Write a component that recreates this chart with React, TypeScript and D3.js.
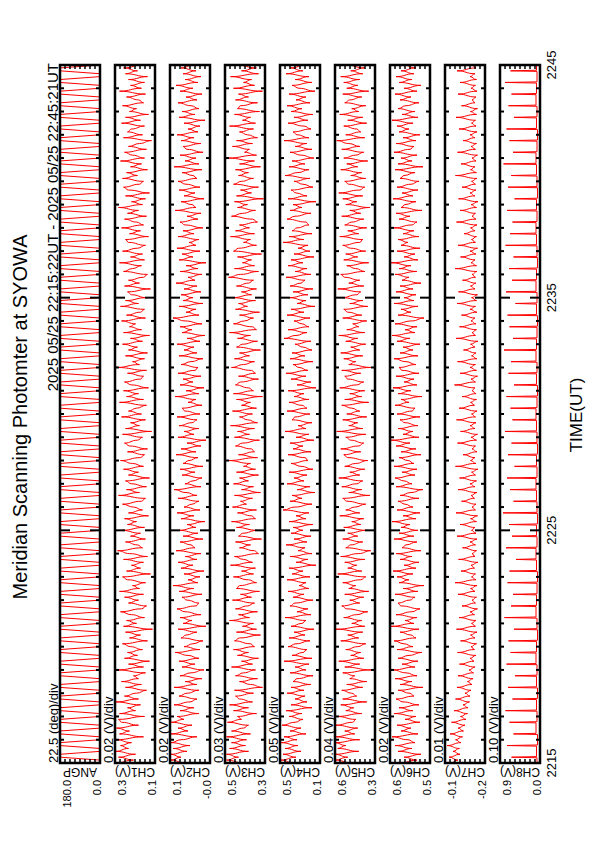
import React from 'react';
import * as d3 from 'd3';

const pageW = 595;
const pageH = 842;

// the plot is laid out on a landscape sheet and turned a quarter turn onto the page
const sheetW = 842;
const plotLeft = 79;
const plotRight = 777;
const panelTop = 60;
const panelH = 40;
const panelStep = 55;

const font = 'Liberation Sans Narrow, Liberation Sans, Arial, sans-serif';

const titleText = 'Meridian Scanning Photomter at SYOWA';
const headerText = '2025 05/25 22:15:22UT - 2025 05/25 22:45:21UT';
const axisTitle = 'TIME(UT)';

// minutes after 22:15 UT
const timeSpan = [0, 30];
const timeTicks = [0, 10, 20, 30];
const timeLabels = ['2215', '2225', '2235', '2245'];

const channelNames = ['ANGP', 'CH1(V)', 'CH2(V)', 'CH3(V)', 'CH4(V)', 'CH5(V)', 'CH6(V)', 'CH7(V)', 'CH8(V)'];
const divLabels = ['22.5 (deg)/div', '0.02 (V)/div', '0.02 (V)/div', '0.03 (V)/div', '0.05 (V)/div', '0.04 (V)/div', '0.02 (V)/div', '0.01 (V)/div', '0.10 (V)/div'];
const perDiv = [22.5, 0.02, 0.02, 0.03, 0.05, 0.04, 0.02, 0.01, 0.1];
const axisMin = [0, 0.14, -0.04, 0.28, 0.12, 0.3, 0.48, -0.2, 0.05];
const topLabels = ['180.0', '0.3', '0.1', '0.5', '0.5', '0.6', '0.6', '-0.1', '0.9'];
const bottomLabels = ['0.0', '0.1', '-0.0', '0.3', '0.1', '0.3', '0.5', '-0.2', '0.0'];
const nDiv = 8;

// scanner angle every 7.5 s: rests at each end, sweeps in between
const angp = [
  0, 0, 180, 180, 0, 0, 180, 180, 0, 0, 180, 180,
  0, 0, 180, 180, 0, 0, 180, 180, 0, 0, 180, 180,
  0, 0, 180, 180, 0, 0, 180, 180, 0, 0, 180, 180,
  0, 0, 180, 180, 0, 0, 180, 180, 0, 0, 180, 180,
  0, 0, 180, 180, 0, 0, 180, 180, 0, 0, 180, 180,
  0, 0, 180, 180, 0, 0, 180, 180, 0, 0, 180, 180,
  0, 0, 180, 180, 0, 0, 180, 180, 0, 0, 180, 180,
  0, 0, 180, 180, 0, 0, 180, 180, 0, 0, 180, 180,
  0, 0, 180, 180, 0, 0, 180, 180, 0, 0, 180, 180,
  0, 0, 180, 180, 0, 0, 180, 180, 0, 0, 180, 180,
  0, 0, 180, 180, 0, 0, 180, 180, 0, 0, 180, 180,
  0, 0, 180, 180, 0, 0, 180, 180, 0, 0, 180, 180,
  0, 0, 180, 180, 0, 0, 180, 180, 0, 0, 180, 180,
  0, 0, 180, 180, 0, 0, 180, 180, 0, 0, 180, 180,
  0, 0, 180, 180, 0, 0, 180, 180, 0, 0, 180, 180,
  0, 0, 180, 180, 0, 0, 180, 180, 0, 0, 180, 180,
  0, 0, 180, 180, 0, 0, 180, 180, 0, 0, 180, 180,
  0, 0, 180, 180, 0, 0, 180, 180, 0, 0, 180, 180,
  0, 0, 180, 180, 0, 0, 180, 180, 0, 0, 180, 180,
  0, 0, 180, 180, 0, 0, 180, 180, 0, 0, 180, 180,
  0,
];

// photometer channels, one reading every 7.5 s
const ch1 = [
  0.298, 0.226, 0.286, 0.218, 0.298, 0.246, 0.278, 0.234, 0.296, 0.186, 0.282, 0.242, 0.294, 0.206, 0.274, 0.286, 0.182, 0.282, 0.218, 0.25,
  0.198, 0.298, 0.206, 0.262, 0.214, 0.174, 0.258, 0.194, 0.274, 0.206, 0.226, 0.178, 0.294, 0.186, 0.246, 0.162, 0.262, 0.21, 0.25, 0.19,
  0.238, 0.27, 0.17, 0.242, 0.198, 0.258, 0.15, 0.266, 0.214, 0.254, 0.182, 0.234, 0.278, 0.194, 0.174, 0.246, 0.206, 0.262, 0.186, 0.282,
  0.202, 0.23, 0.178, 0.25, 0.27, 0.158, 0.254, 0.198, 0.234, 0.186, 0.266, 0.17, 0.242, 0.29, 0.19, 0.21, 0.258, 0.178, 0.238, 0.198,
  0.274, 0.182, 0.25, 0.214, 0.262, 0.166, 0.246, 0.19, 0.226, 0.27, 0.194, 0.178, 0.286, 0.202, 0.254, 0.174, 0.234, 0.258, 0.162, 0.246,
  0.206, 0.266, 0.186, 0.23, 0.278, 0.198, 0.182, 0.25, 0.17, 0.242, 0.262, 0.21, 0.19, 0.27, 0.154, 0.258, 0.202, 0.238, 0.178, 0.274,
  0.194, 0.246, 0.214, 0.174, 0.282, 0.186, 0.254, 0.206, 0.266, 0.166, 0.234, 0.262, 0.198, 0.186, 0.25, 0.174, 0.294, 0.202, 0.23, 0.182,
  0.258, 0.17, 0.246, 0.21, 0.27, 0.19, 0.238, 0.162, 0.266, 0.194, 0.242, 0.218, 0.274, 0.178, 0.254, 0.198, 0.182, 0.278, 0.206, 0.258,
  0.174, 0.234, 0.25, 0.158, 0.262, 0.202, 0.246, 0.186, 0.17, 0.266, 0.23, 0.194, 0.282, 0.182, 0.238, 0.19, 0.27, 0.21, 0.178, 0.246,
  0.258, 0.166, 0.242, 0.198, 0.274, 0.186, 0.214, 0.262, 0.174, 0.25, 0.206, 0.286, 0.19, 0.234, 0.178, 0.258, 0.162, 0.246, 0.266, 0.202,
  0.186, 0.27, 0.21, 0.254, 0.17, 0.238, 0.194, 0.278, 0.182, 0.23, 0.262, 0.174, 0.246, 0.202, 0.154, 0.266, 0.19, 0.25, 0.234, 0.182,
  0.274, 0.198, 0.258, 0.166, 0.242, 0.214, 0.27, 0.186, 0.206, 0.254, 0.178, 0.282, 0.194, 0.238, 0.182, 0.246, 0.17, 0.258, 0.21, 0.266,
  0.19,
];

const ch2 = [
  0.06, 0.116, 0.076, 0.116, 0.052, 0.108, 0.04, 0.116, 0.076, 0.012, 0.116, 0.048, 0.088, 0.032, 0.116, 0.064, 0.092, 0.004, 0.08, 0.024,
  0.104, 0.04, 0.012, 0.084, 0.052, 0.004, 0.104, 0.012, 0.06, -0.008, 0.08, 0.036, -0.016, 0.072, 0.02, 0.084, 0.004, 0.048, 0.1, 0.0,
  0.064, 0.028, -0.012, 0.076, 0.056, 0.012, 0.088, -0.024, 0.068, 0.032, 0.08, -0.004, 0.06, 0.092, 0.016, 0.004, 0.052, 0.072, -0.008, 0.084,
  0.024, 0.108, 0.008, 0.048, 0.0, 0.064, -0.016, 0.076, 0.028, 0.088, 0.012, 0.06, -0.004, 0.096, 0.02, 0.036, 0.08, -0.012, 0.068, 0.008,
  0.084, 0.016, 0.052, -0.02, 0.076, 0.024, 0.092, 0.0, 0.064, 0.032, 0.004, 0.088, 0.012, 0.056, 0.104, -0.004, 0.06, 0.028, -0.008, 0.072,
  0.02, 0.08, -0.012, 0.068, 0.044, 0.008, 0.096, 0.016, 0.076, -0.004, 0.052, -0.024, 0.088, 0.024, 0.064, 0.004, 0.084, 0.032, 0.012, 0.092,
  0.0, 0.06, 0.072, -0.008, 0.048, 0.016, 0.1, 0.004, 0.056, -0.016, 0.08, 0.028, 0.068, -0.004, 0.088, 0.02, 0.008, 0.076, 0.036, -0.012,
  0.084, 0.012, 0.064, 0.024, 0.092, 0.0, 0.052, -0.02, 0.072, 0.032, 0.08, -0.008, 0.06, 0.108, 0.004, 0.056, 0.016, 0.084, -0.012, 0.068,
  0.028, 0.076, -0.004, 0.064, 0.012, 0.096, 0.02, 0.048, -0.008, 0.08, 0.008, 0.056, -0.024, 0.084, 0.028, 0.072, 0.0, 0.092, 0.016, 0.044,
  0.004, 0.088, 0.024, 0.068, -0.012, 0.06, 0.08, 0.008, 0.052, -0.004, 0.1, 0.016, 0.032, 0.076, -0.016, 0.064, 0.02, 0.084, 0.0, 0.056,
  0.088, 0.012, 0.028, 0.072, -0.008, 0.104, 0.004, 0.06, 0.016, 0.08, -0.012, 0.052, 0.068, -0.004, 0.076, 0.024, 0.092, 0.008, 0.048, 0.0,
  0.064, -0.02, 0.084, 0.02, 0.072, 0.004, 0.036, 0.088, 0.012, 0.056, -0.008, 0.08, 0.028, 0.096, 0.008, 0.06, -0.004, 0.068, 0.016, 0.076,
  0.024,
];

const ch3 = [
  0.409, 0.511, 0.439, 0.511, 0.379, 0.493, 0.397, 0.481, 0.391, 0.511, 0.367, 0.481, 0.409, 0.379, 0.505, 0.421, 0.445, 0.331, 0.469, 0.379,
  0.493, 0.355, 0.433, 0.457, 0.349, 0.463, 0.295, 0.367, 0.433, 0.325, 0.457, 0.409, 0.337, 0.481, 0.355, 0.421, 0.319, 0.445, 0.379, 0.469,
  0.343, 0.367, 0.463, 0.433, 0.307, 0.451, 0.331, 0.415, 0.349, 0.493, 0.373, 0.439, 0.325, 0.457, 0.385, 0.343, 0.475, 0.361, 0.427, 0.313,
  0.451, 0.433, 0.331, 0.379, 0.469, 0.349, 0.421, 0.337, 0.487, 0.355, 0.409, 0.463, 0.319, 0.343, 0.433, 0.367, 0.457, 0.301, 0.439, 0.415,
  0.325, 0.451, 0.373, 0.481, 0.337, 0.361, 0.445, 0.331, 0.475, 0.391, 0.427, 0.355, 0.463, 0.307, 0.421, 0.349, 0.469, 0.379, 0.433, 0.319,
  0.451, 0.337, 0.409, 0.367, 0.505, 0.325, 0.439, 0.343, 0.361, 0.457, 0.415, 0.313, 0.463, 0.373, 0.445, 0.343, 0.487, 0.325, 0.385, 0.433,
  0.355, 0.475, 0.331, 0.421, 0.367, 0.451, 0.295, 0.469, 0.349, 0.379, 0.457, 0.427, 0.319, 0.439, 0.337, 0.361, 0.481, 0.409, 0.343, 0.463,
  0.373, 0.433, 0.307, 0.451, 0.415, 0.325, 0.445, 0.367, 0.493, 0.331, 0.355, 0.469, 0.403, 0.349, 0.433, 0.313, 0.457, 0.385, 0.439, 0.337,
  0.475, 0.361, 0.421, 0.331, 0.451, 0.379, 0.349, 0.499, 0.427, 0.319, 0.463, 0.343, 0.415, 0.361, 0.445, 0.301, 0.469, 0.439, 0.331, 0.409,
  0.367, 0.487, 0.343, 0.457, 0.373, 0.433, 0.325, 0.355, 0.481, 0.415, 0.337, 0.445, 0.385, 0.463, 0.289, 0.451, 0.361, 0.427, 0.319, 0.469,
  0.421, 0.349, 0.439, 0.379, 0.457, 0.307, 0.433, 0.343, 0.505, 0.331, 0.403, 0.373, 0.475, 0.355, 0.451, 0.325, 0.385, 0.433, 0.349, 0.493,
  0.337, 0.415, 0.367, 0.463, 0.313, 0.445, 0.427, 0.325, 0.457, 0.379, 0.439, 0.295, 0.469, 0.343, 0.409, 0.361, 0.487, 0.319, 0.421, 0.331,
  0.451,
];

const ch4 = [
  0.38, 0.51, 0.36, 0.49, 0.31, 0.47, 0.34, 0.51, 0.35, 0.48, 0.26, 0.42, 0.31, 0.5, 0.37, 0.29, 0.43, 0.3, 0.46, 0.2,
  0.41, 0.25, 0.37, 0.27, 0.45, 0.28, 0.41, 0.21, 0.39, 0.35, 0.19, 0.42, 0.26, 0.37, 0.23, 0.48, 0.2, 0.4, 0.29, 0.25,
  0.44, 0.36, 0.22, 0.43, 0.27, 0.38, 0.18, 0.41, 0.3, 0.26, 0.47, 0.21, 0.35, 0.24, 0.42, 0.37, 0.19, 0.39, 0.28, 0.44,
  0.23, 0.33, 0.26, 0.45, 0.22, 0.4, 0.29, 0.43, 0.16, 0.36, 0.24, 0.42, 0.2, 0.34, 0.27, 0.46, 0.25, 0.38, 0.21, 0.41,
  0.29, 0.39, 0.19, 0.43, 0.26, 0.36, 0.23, 0.49, 0.37, 0.2, 0.42, 0.3, 0.4, 0.17, 0.35, 0.22, 0.45, 0.28, 0.38, 0.25,
  0.43, 0.19, 0.31, 0.41, 0.24, 0.27, 0.44, 0.21, 0.39, 0.29, 0.42, 0.18, 0.36, 0.23, 0.47, 0.26, 0.34, 0.2, 0.4, 0.37,
  0.22, 0.45, 0.25, 0.3, 0.43, 0.23, 0.38, 0.28, 0.44, 0.16, 0.35, 0.21, 0.41, 0.26, 0.46, 0.24, 0.33, 0.39, 0.19, 0.42,
  0.27, 0.4, 0.2, 0.29, 0.37, 0.21, 0.48, 0.36, 0.25, 0.44, 0.23, 0.3, 0.38, 0.22, 0.45, 0.28, 0.41, 0.17, 0.35, 0.26,
  0.43, 0.24, 0.39, 0.19, 0.42, 0.31, 0.27, 0.46, 0.21, 0.37, 0.25, 0.44, 0.29, 0.41, 0.18, 0.38, 0.22, 0.34, 0.24, 0.49,
  0.28, 0.43, 0.2, 0.4, 0.35, 0.23, 0.26, 0.45, 0.37, 0.21, 0.42, 0.3, 0.39, 0.16, 0.44, 0.25, 0.36, 0.41, 0.19, 0.29,
  0.38, 0.22, 0.47, 0.34, 0.23, 0.43, 0.27, 0.4, 0.18, 0.31, 0.42, 0.2, 0.37, 0.25, 0.48, 0.23, 0.35, 0.39, 0.21, 0.28,
  0.44, 0.24, 0.38, 0.19, 0.41, 0.3, 0.45, 0.22, 0.36, 0.26, 0.43, 0.17, 0.33, 0.4, 0.2, 0.37, 0.23, 0.46, 0.29, 0.42,
  0.25,
];

const ch5 = [
  0.478, 0.622, 0.518, 0.622, 0.43, 0.598, 0.534, 0.622, 0.422, 0.622, 0.462, 0.542, 0.438, 0.614, 0.478, 0.454, 0.606, 0.406, 0.534, 0.47,
  0.574, 0.366, 0.558, 0.446, 0.486, 0.566, 0.398, 0.526, 0.366, 0.502, 0.462, 0.558, 0.326, 0.542, 0.422, 0.59, 0.39, 0.494, 0.414, 0.534,
  0.438, 0.374, 0.574, 0.43, 0.518, 0.398, 0.614, 0.382, 0.486, 0.406, 0.55, 0.446, 0.358, 0.526, 0.566, 0.422, 0.502, 0.39, 0.542, 0.35,
  0.51, 0.454, 0.558, 0.414, 0.374, 0.598, 0.406, 0.518, 0.446, 0.542, 0.382, 0.574, 0.43, 0.334, 0.534, 0.494, 0.398, 0.558, 0.438, 0.518,
  0.366, 0.55, 0.414, 0.486, 0.39, 0.582, 0.422, 0.534, 0.462, 0.374, 0.526, 0.558, 0.342, 0.51, 0.406, 0.566, 0.446, 0.398, 0.59, 0.422,
  0.502, 0.382, 0.542, 0.454, 0.358, 0.518, 0.55, 0.414, 0.574, 0.43, 0.39, 0.494, 0.534, 0.374, 0.606, 0.398, 0.51, 0.438, 0.558, 0.366,
  0.526, 0.422, 0.486, 0.566, 0.35, 0.542, 0.406, 0.502, 0.382, 0.582, 0.446, 0.39, 0.518, 0.542, 0.414, 0.566, 0.326, 0.51, 0.454, 0.55,
  0.398, 0.574, 0.422, 0.494, 0.374, 0.534, 0.438, 0.59, 0.382, 0.526, 0.43, 0.478, 0.366, 0.558, 0.406, 0.518, 0.55, 0.358, 0.502, 0.398,
  0.566, 0.446, 0.414, 0.598, 0.39, 0.51, 0.422, 0.542, 0.574, 0.382, 0.454, 0.526, 0.35, 0.55, 0.438, 0.534, 0.374, 0.494, 0.558, 0.422,
  0.398, 0.582, 0.43, 0.518, 0.366, 0.542, 0.486, 0.39, 0.566, 0.414, 0.502, 0.342, 0.534, 0.446, 0.558, 0.398, 0.59, 0.422, 0.382, 0.51,
  0.542, 0.374, 0.494, 0.406, 0.574, 0.438, 0.526, 0.358, 0.55, 0.454, 0.39, 0.566, 0.422, 0.51, 0.606, 0.382, 0.534, 0.414, 0.446, 0.55,
  0.366, 0.518, 0.398, 0.582, 0.43, 0.486, 0.374, 0.542, 0.502, 0.406, 0.558, 0.35, 0.526, 0.438, 0.55, 0.422, 0.574, 0.398, 0.494, 0.382,
  0.534,
];

const ch6 = [
  0.6, 0.532, 0.584, 0.516, 0.608, 0.552, 0.62, 0.54, 0.568, 0.632, 0.528, 0.596, 0.556, 0.612, 0.52, 0.58, 0.536, 0.624, 0.548, 0.604,
  0.524, 0.588, 0.616, 0.544, 0.56, 0.608, 0.508, 0.6, 0.552, 0.62, 0.532, 0.576, 0.628, 0.54, 0.592, 0.528, 0.608, 0.564, 0.512, 0.612,
  0.548, 0.584, 0.624, 0.536, 0.556, 0.6, 0.524, 0.636, 0.544, 0.58, 0.532, 0.616, 0.552, 0.52, 0.596, 0.608, 0.56, 0.54, 0.62, 0.528,
  0.588, 0.504, 0.604, 0.564, 0.612, 0.548, 0.628, 0.536, 0.584, 0.524, 0.6, 0.552, 0.616, 0.516, 0.592, 0.576, 0.532, 0.624, 0.544, 0.604,
  0.528, 0.596, 0.56, 0.632, 0.536, 0.588, 0.52, 0.612, 0.548, 0.58, 0.608, 0.524, 0.6, 0.556, 0.508, 0.616, 0.552, 0.584, 0.62, 0.54,
  0.592, 0.532, 0.624, 0.544, 0.568, 0.604, 0.516, 0.596, 0.536, 0.616, 0.56, 0.636, 0.524, 0.588, 0.548, 0.608, 0.528, 0.58, 0.6, 0.52,
  0.612, 0.552, 0.54, 0.62, 0.564, 0.596, 0.512, 0.608, 0.556, 0.628, 0.532, 0.584, 0.544, 0.616, 0.524, 0.592, 0.604, 0.536, 0.576, 0.624,
  0.528, 0.6, 0.548, 0.588, 0.52, 0.612, 0.56, 0.632, 0.54, 0.58, 0.532, 0.62, 0.552, 0.504, 0.608, 0.556, 0.596, 0.528, 0.624, 0.544,
  0.584, 0.536, 0.616, 0.548, 0.6, 0.516, 0.592, 0.564, 0.62, 0.532, 0.604, 0.556, 0.636, 0.528, 0.584, 0.54, 0.612, 0.52, 0.596, 0.568,
  0.608, 0.524, 0.588, 0.544, 0.624, 0.552, 0.532, 0.604, 0.56, 0.616, 0.512, 0.596, 0.58, 0.536, 0.628, 0.548, 0.592, 0.528, 0.612, 0.556,
  0.524, 0.6, 0.584, 0.54, 0.62, 0.508, 0.608, 0.552, 0.596, 0.532, 0.624, 0.56, 0.544, 0.616, 0.536, 0.588, 0.52, 0.604, 0.564, 0.612,
  0.548, 0.632, 0.528, 0.592, 0.54, 0.608, 0.576, 0.524, 0.6, 0.556, 0.62, 0.532, 0.584, 0.516, 0.604, 0.552, 0.616, 0.544, 0.596, 0.536,
  0.588,
];

const ch7 = [
  -0.131, -0.146, -0.128, -0.15, -0.136, -0.149, -0.124, -0.152, -0.141, -0.155,
  -0.13, -0.157, -0.146, -0.16, -0.133, -0.162, -0.151, -0.165, -0.138, -0.166,
  -0.156, -0.169, -0.141, -0.17, -0.16, -0.172, -0.144, -0.174, -0.165, -0.176,
  -0.146, -0.177, -0.168, -0.18, -0.149, -0.178, -0.17, -0.182, -0.145, -0.179,
  -0.172, -0.183, -0.151, -0.18, -0.171, -0.184, -0.143, -0.181, -0.173, -0.182,
  -0.148, -0.179, -0.17, -0.185, -0.154, -0.181, -0.174, -0.183, -0.146, -0.18,
  -0.171, -0.184, -0.14, -0.182, -0.173, -0.181, -0.152, -0.179, -0.172, -0.186,
  -0.147, -0.18, -0.174, -0.183, -0.155, -0.181, -0.17, -0.184, -0.144, -0.182,
  -0.173, -0.18, -0.15, -0.183, -0.171, -0.185, -0.142, -0.181, -0.174, -0.182,
  -0.153, -0.179, -0.172, -0.184, -0.146, -0.18, -0.17, -0.183, -0.149, -0.181,
  -0.173, -0.186, -0.141, -0.182, -0.171, -0.18, -0.156, -0.184, -0.174, -0.181,
  -0.145, -0.183, -0.172, -0.185, -0.151, -0.18, -0.17, -0.182, -0.143, -0.181,
  -0.173, -0.184, -0.148, -0.179, -0.171, -0.183, -0.154, -0.182, -0.174, -0.18,
  -0.139, -0.181, -0.172, -0.185, -0.15, -0.183, -0.17, -0.181, -0.145, -0.184,
  -0.173, -0.182, -0.157, -0.18, -0.171, -0.186, -0.142, -0.181, -0.174, -0.183,
  -0.149, -0.182, -0.172, -0.18, -0.153, -0.184, -0.17, -0.181, -0.144, -0.183,
  -0.173, -0.185, -0.147, -0.18, -0.171, -0.182, -0.155, -0.181, -0.174, -0.184,
  -0.14, -0.183, -0.172, -0.18, -0.151, -0.182, -0.17, -0.185, -0.146, -0.181,
  -0.173, -0.183, -0.158, -0.18, -0.171, -0.184, -0.143, -0.182, -0.174, -0.181,
  -0.15, -0.183, -0.172, -0.186, -0.147, -0.18, -0.17, -0.182, -0.154, -0.181,
  -0.173, -0.184, -0.141, -0.183, -0.171, -0.18, -0.152, -0.182, -0.174, -0.185,
  -0.145, -0.181, -0.172, -0.183, -0.156, -0.18, -0.17, -0.184, -0.148, -0.182,
  -0.173, -0.181, -0.142, -0.183, -0.171, -0.185, -0.153, -0.18, -0.174, -0.182,
  -0.146, -0.184, -0.172, -0.181, -0.15, -0.183, -0.17, -0.18, -0.144, -0.182,
  -0.173,
];

// CH8: quiet level between scans and the peak seen once per scan
const ch8Base = [
  0.11, 0.12, 0.1, 0.13, 0.11, 0.12, 0.1, 0.12, 0.11, 0.13,
  0.12, 0.1, 0.11, 0.13, 0.12, 0.11, 0.1, 0.12, 0.13, 0.11,
  0.12, 0.1, 0.11, 0.12, 0.13, 0.11, 0.12, 0.1, 0.11, 0.12,
  0.13, 0.11, 0.1, 0.12, 0.11, 0.13, 0.12, 0.11, 0.1, 0.12,
  0.11, 0.13, 0.12, 0.1, 0.11, 0.12, 0.13, 0.11, 0.12, 0.1,
  0.11, 0.12, 0.13, 0.11, 0.1, 0.12, 0.11, 0.13, 0.12, 0.11,
  0.12,
];
const ch8Peak = [
  0.62, 0.71, 0.58, 0.66, 0.74, 0.6, 0.69, 0.55, 0.72, 0.64,
  0.68, 0.57, 0.76, 0.63, 0.59, 0.7, 0.66, 0.53, 0.73, 0.61,
  0.67, 0.79, 0.58, 0.65, 0.71, 0.56, 0.69, 0.62, 0.75, 0.6,
  0.64, 0.72, 0.57, 0.68, 0.63, 0.77, 0.59, 0.66, 0.7, 0.54,
  0.73, 0.61, 0.67, 0.58, 0.74, 0.65, 0.6, 0.71, 0.56, 0.69,
  0.63, 0.78, 0.59, 0.66, 0.72, 0.57, 0.68, 0.62, 0.75, 0.64,
];

const traces = [angp, ch1, ch2, ch3, ch4, ch5, ch6, ch7];

function evenTimes(values: number[]): [number, number][] {
  const step = (timeSpan[1] - timeSpan[0]) / (values.length - 1);
  return values.map((v, i) => [timeSpan[0] + i * step, v]);
}

function ch8Points(): [number, number][] {
  // peaks sit where the scanner reaches 180 deg
  const scan = evenTimes(angp)
    .filter((d, i) => d[1] === 180 && i > 0 && angp[i - 1] === 0)
    .map((d) => d[0]);
  const pts: [number, number][] = [[timeSpan[0], ch8Base[0]]];
  scan.forEach((t, k) => {
    pts.push([t - 0.025, ch8Base[k]]);
    pts.push([t, ch8Peak[k]]);
    pts.push([t + 0.025, ch8Base[k + 1]]);
  });
  pts.push([timeSpan[1], ch8Base[ch8Base.length - 1]]);
  return pts;
}

export default function App() {
  const x = d3.scaleLinear().domain(timeSpan).range([plotLeft, plotRight]);
  const minutes = d3.range(timeSpan[0], timeSpan[1] + 1);

  const panels = channelNames.map((name, i) => {
    const top = panelTop + i * panelStep;
    const y = d3
      .scaleLinear()
      .domain([axisMin[i], axisMin[i] + nDiv * perDiv[i]])
      .range([top + panelH, top]);
    const pts = i < traces.length ? evenTimes(traces[i]) : ch8Points();
    // photometer readings swing hard between samples; angle and CH8 are joined directly
    const swung = i >= 1 && i <= 7;
    const line = d3
      .line<[number, number]>()
      .x((d) => x(d[0]))
      .y((d) => y(d[1]))
      .curve(swung ? d3.curveBumpY : d3.curveLinear);
    const divs = d3.range(1, nDiv);
    return (
      <g key={name}>
        <clipPath id={`clip${i}`}>
          <rect x={plotLeft} y={top} width={plotRight - plotLeft} height={panelH} />
        </clipPath>
        <path d={line(pts) || ''} fill="none" stroke="#ff0000" strokeWidth={1} clipPath={`url(#clip${i})`} />
        <rect x={plotLeft} y={top} width={plotRight - plotLeft} height={panelH} fill="none" stroke="#000" strokeWidth={2.5} />
        {minutes.map((m) => {
          const len = m === 10 || m === 20 ? 10 : 4;
          return (
            <g key={m} stroke="#000" strokeWidth={2}>
              <line x1={x(m)} x2={x(m)} y1={top} y2={top + len} />
              <line x1={x(m)} x2={x(m)} y1={top + panelH} y2={top + panelH - len} />
            </g>
          );
        })}
        {divs.map((d) => {
          const yy = y(axisMin[i] + d * perDiv[i]);
          return (
            <g key={d} stroke="#000" strokeWidth={1.5}>
              <line x1={plotLeft} x2={plotLeft + 4} y1={yy} y2={yy} />
              <line x1={plotRight} x2={plotRight - 4} y1={yy} y2={yy} />
            </g>
          );
        })}
        <text x={plotLeft} y={top - 2} fontSize={13} fontFamily={font}>
          {divLabels[i]}
        </text>
        <text x={62} y={top + 11} fontSize={11} fontFamily={font} textAnchor="end">
          {topLabels[i]}
        </text>
        <text x={62} y={top + panelH + 1} fontSize={11} fontFamily={font} textAnchor="end">
          {bottomLabels[i]}
        </text>
        <text
          transform={`translate(74,${top + panelH / 2}) rotate(-90)`}
          fontSize={12}
          fontFamily={font}
          textAnchor="middle"
        >
          {name}
        </text>
      </g>
    );
  });

  return (
    <svg width={pageW} height={pageH} style={{ position: 'absolute', left: 0, top: 0, background: '#fff' }}>
      <rect width={pageW} height={pageH} fill="#fff" />
      <g transform={`translate(0,${pageH}) rotate(-90)`}>
        <text x={sheetW / 2 + 4} y={27} fontSize={20} fontFamily={font} textAnchor="middle">
          {titleText}
        </text>
        <text x={plotRight + 2} y={58} fontSize={15} fontFamily={font} textAnchor="end">
          {headerText}
        </text>
        {panels}
        {timeTicks.map((t, k) => (
          <text key={t} x={x(t)} y={556} fontSize={13} fontFamily={font} textAnchor="middle">
            {timeLabels[k]}
          </text>
        ))}
        <text x={427} y={582} fontSize={17} fontFamily={font} textAnchor="middle">
          {axisTitle}
        </text>
      </g>
    </svg>
  );
}
